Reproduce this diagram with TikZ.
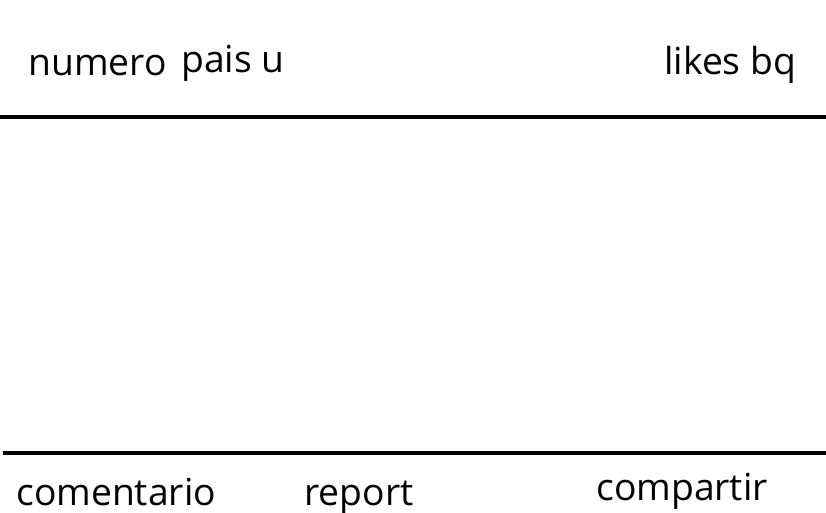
\documentclass[tikz,border=0pt]{standalone}
\usepackage{fontspec}
\setmainfont{Open Sans}
\usetikzlibrary{positioning}

\begin{document}
\begin{tikzpicture}[x=0.02cm, y=-0.02cm,
    lbl/.style={anchor=base west, inner sep=0pt, font=\fontsize{21.2}{25}\selectfont},
    barra/.style={line width=2.3pt}]
  \useasboundingbox (0,0) rectangle (826,512);
  % cabecera
  \node[lbl] (numero) at (28,75) {numero};
  \node[lbl] (pais) at (181,72) {pais u};
  \node[lbl] (likes) at (664,74) {likes bq};
  \draw[barra] (0,117) -- (826,117);
  % pie
  \draw[barra] (3,453) -- (826,453);
  \node[lbl] (comentario) at (16,505) {comentario};
  \node[lbl] (report) at (304,505) {report};
  \node[lbl] (compartir) at (596,500) {compartir};
\end{tikzpicture}
\end{document}
